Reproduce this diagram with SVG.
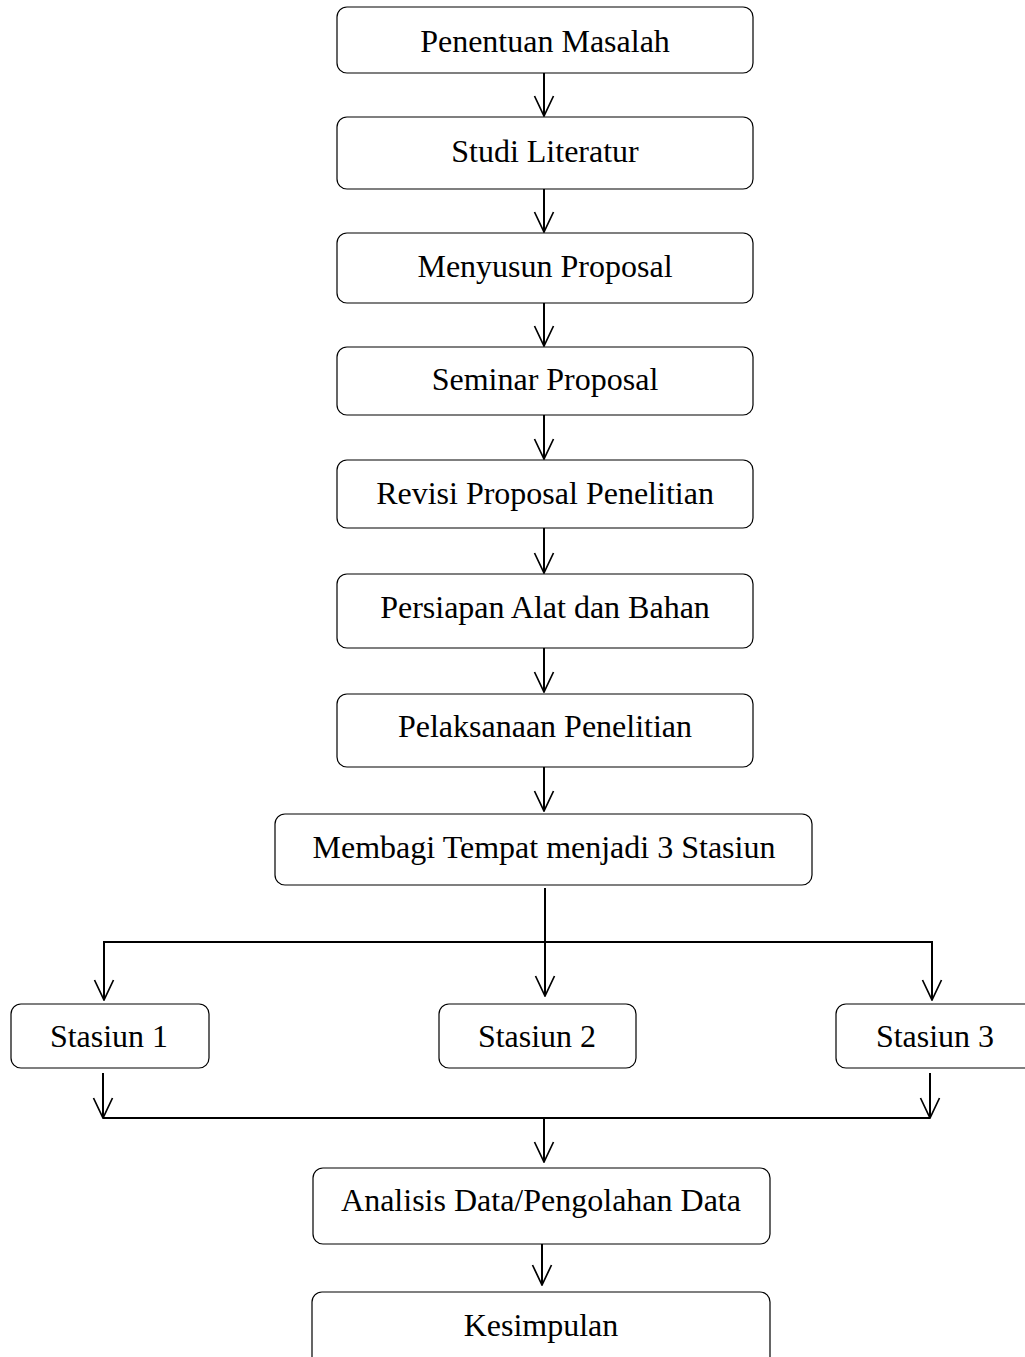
<svg xmlns="http://www.w3.org/2000/svg" width="1025" height="1357" viewBox="0 0 1025 1357">
<style>
.box{fill:#fff;stroke:#000;stroke-width:1.2}
.t{font-family:"Liberation Serif","Times New Roman",serif;font-size:32px;fill:#000;text-anchor:middle}
.c{fill:none;stroke:#000;stroke-width:2}
</style>
<defs>
<marker id="v" viewBox="0 0 22 22" refX="21" refY="11" markerWidth="22" markerHeight="22" markerUnits="userSpaceOnUse" orient="auto-start-reverse">
<path d="M1 1.5 L21 11 L1 20.5" fill="none" stroke="#000" stroke-width="1.7"/>
</marker>
</defs>
<rect width="1025" height="1357" fill="#fff"/>
<g id="connectors">
<line class="c" x1="544" y1="73" x2="544" y2="116" marker-end="url(#v)"/>
<line class="c" x1="544" y1="189" x2="544" y2="232" marker-end="url(#v)"/>
<line class="c" x1="544" y1="303" x2="544" y2="346" marker-end="url(#v)"/>
<line class="c" x1="544" y1="415" x2="544" y2="459" marker-end="url(#v)"/>
<line class="c" x1="544" y1="528" x2="544" y2="573" marker-end="url(#v)"/>
<line class="c" x1="544" y1="648" x2="544" y2="692" marker-end="url(#v)"/>
<line class="c" x1="544" y1="767" x2="544" y2="811" marker-end="url(#v)"/>
<line class="c" x1="545" y1="888" x2="545" y2="996" marker-end="url(#v)"/>
<polyline class="c" points="104,1000 104,942 932,942 932,1000" marker-start="url(#v)" marker-end="url(#v)"/>
<line class="c" x1="103" y1="1073" x2="103" y2="1118" marker-end="url(#v)"/>
<line class="c" x1="930" y1="1073" x2="930" y2="1118" marker-end="url(#v)"/>
<line class="c" x1="103" y1="1118" x2="930" y2="1118"/>
<line class="c" x1="544" y1="1118" x2="544" y2="1162" marker-end="url(#v)"/>
<line class="c" x1="542" y1="1243" x2="542" y2="1285" marker-end="url(#v)"/>
</g>
<g id="n1"><rect class="box" x="337" y="7" width="416" height="66" rx="10"/><text class="t" x="545" y="52">Penentuan Masalah</text></g>
<g id="n2"><rect class="box" x="337" y="117" width="416" height="72" rx="10"/><text class="t" x="545" y="162">Studi Literatur</text></g>
<g id="n3"><rect class="box" x="337" y="233" width="416" height="70" rx="10"/><text class="t" x="545" y="277">Menyusun Proposal</text></g>
<g id="n4"><rect class="box" x="337" y="347" width="416" height="68" rx="10"/><text class="t" x="545" y="390">Seminar Proposal</text></g>
<g id="n5"><rect class="box" x="337" y="460" width="416" height="68" rx="10"/><text class="t" x="545" y="504">Revisi Proposal Penelitian</text></g>
<g id="n6"><rect class="box" x="337" y="574" width="416" height="74" rx="10"/><text class="t" x="545" y="618">Persiapan Alat dan Bahan</text></g>
<g id="n7"><rect class="box" x="337" y="694" width="416" height="73" rx="10"/><text class="t" x="545" y="737">Pelaksanaan Penelitian</text></g>
<g id="n8"><rect class="box" x="275" y="814" width="537" height="71" rx="10"/><text class="t" x="544" y="858">Membagi Tempat menjadi 3 Stasiun</text></g>
<g id="s1"><rect class="box" x="11" y="1004" width="198" height="64" rx="10"/><text class="t" x="109" y="1047">Stasiun 1</text></g>
<g id="s2"><rect class="box" x="439" y="1004" width="197" height="64" rx="10"/><text class="t" x="537" y="1047">Stasiun 2</text></g>
<g id="s3"><rect class="box" x="836" y="1004" width="200" height="64" rx="10"/><text class="t" x="935" y="1047">Stasiun 3</text></g>
<g id="n9"><rect class="box" x="313" y="1168" width="457" height="76" rx="10"/><text class="t" x="541" y="1211">Analisis Data/Pengolahan Data</text></g>
<g id="n10"><rect class="box" x="312" y="1292" width="458" height="80" rx="10"/><text class="t" x="541" y="1336">Kesimpulan</text></g>
</svg>
